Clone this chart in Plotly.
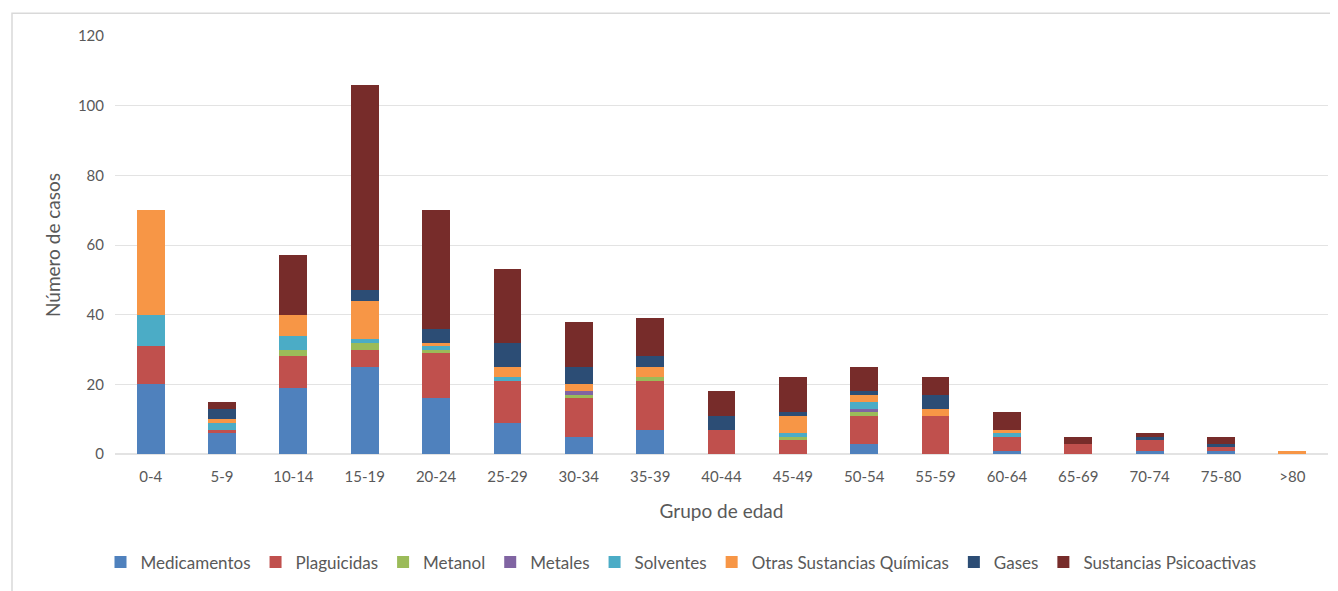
import plotly.graph_objects as go

categories = ["0-4", "5-9", "10-14", "15-19", "20-24", "25-29", "30-34", "35-39",
              "40-44", "45-49", "50-54", "55-59", "60-64", "65-69", "70-74", "75-80", ">80"]

medicamentos = [20, 6, 19, 25, 16, 9, 5, 7, 0, 0, 3, 0, 1, 0, 1, 1, 0]
plaguicidas  = [11, 1, 9, 5, 13, 12, 11, 14, 7, 4, 8, 11, 4, 3, 3, 1, 0]
metanol      = [0, 0, 2, 2, 1, 0, 1, 1, 0, 1, 1, 0, 0, 0, 0, 0, 0]
metales      = [0, 0, 0, 0, 0, 0, 1, 0, 0, 0, 1, 0, 0, 0, 0, 0, 0]
solventes    = [9, 2, 4, 1, 1, 1, 0, 0, 0, 1, 2, 0, 1, 0, 0, 0, 0]
otras        = [30, 1, 6, 11, 1, 3, 2, 3, 0, 5, 2, 2, 1, 0, 0, 0, 1]
gases        = [0, 3, 0, 3, 4, 7, 5, 3, 4, 1, 1, 4, 0, 0, 1, 1, 0]
psicoactivas = [0, 2, 17, 59, 34, 21, 13, 11, 7, 10, 7, 5, 5, 2, 1, 2, 0]

series = [
    ("Medicamentos", medicamentos, "#4f81bd"),
    ("Plaguicidas", plaguicidas, "#c0504d"),
    ("Metanol", metanol, "#9bbb59"),
    ("Metales", metales, "#8064a2"),
    ("Solventes", solventes, "#4bacc6"),
    ("Otras Sustancias Químicas", otras, "#f79646"),
    ("Gases", gases, "#2c4d75"),
    ("Sustancias Psicoactivas", psicoactivas, "#772c2a"),
]

fig = go.Figure()
for name, vals, color in series:
    fig.add_trace(go.Bar(x=categories, y=vals, name=name, marker_color=color,
                         marker_line_width=0))

font_family = "Lato, Carlito, Calibri, sans-serif"
W, H = 1330, 583
L, R, T, B = 107, 10, 28, 131
pw, ph = W - L - R, H - T - B

fig.update_layout(
    barmode="stack",
    bargap=0.61,
    width=W, height=H,
    margin=dict(l=L, r=R, t=T, b=B),
    paper_bgcolor="white", plot_bgcolor="white",
    font=dict(family=font_family, size=13, color="#595959"),
    xaxis=dict(title=dict(text="Grupo de edad", font=dict(size=19, color="#595959"), standoff=20),
               showgrid=False, showline=False, ticks="", ticklabelstandoff=12,
               tickfont=dict(size=15), automargin=False),
    yaxis=dict(title=dict(text="Número de casos", font=dict(size=19, color="#595959"), standoff=12),
               range=[0, 120], dtick=20, showgrid=True, gridcolor="#e3e3e3", gridwidth=1,
               zeroline=True, zerolinecolor="#e3e3e3", showline=False, ticks="",
               ticklabelstandoff=10, tickfont=dict(size=15), automargin=False),
    legend=dict(orientation="h", x=(681 - 8 - L) / pw, xanchor="center",
                y=(H - B - 562) / ph, yanchor="middle",
                font=dict(size=17, color="#595959"), itemwidth=30, traceorder="normal"),
    shapes=[dict(type="rect", xref="paper", yref="paper",
                 x0=(4 - L) / pw, x1=1.05, y0=-0.5, y1=(H - B - 5) / ph,
                 line=dict(color="#d9d9d9", width=1.5), fillcolor="rgba(0,0,0,0)", layer="below")],
)

fig.write_html("out.html")
